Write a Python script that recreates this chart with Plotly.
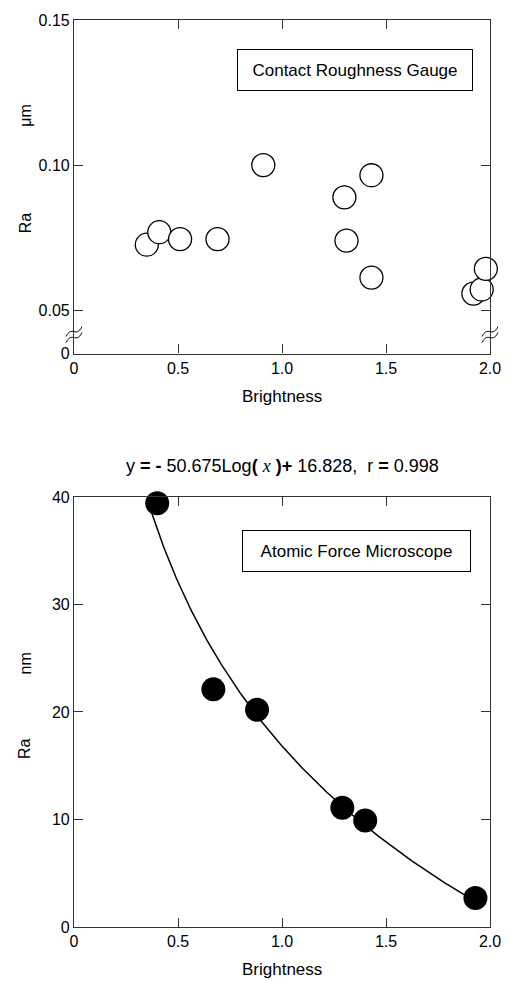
import numpy as np
import plotly.graph_objects as go

# ---------------- data ----------------
# Top panel: Contact Roughness Gauge (Ra in micrometres)
crg_brightness = [0.35, 0.41, 0.51, 0.69, 0.91, 1.30, 1.43, 1.31, 1.43, 1.92, 1.96, 1.98]
crg_ra_um = [0.0727, 0.0770, 0.0746, 0.0746, 0.1001, 0.0890, 0.0966, 0.0741, 0.0614, 0.0559, 0.0573, 0.0644]

# Bottom panel: Atomic Force Microscope (Ra in nanometres)
afm_brightness = [0.40, 0.67, 0.88, 1.29, 1.40, 1.93]
afm_ra_nm = [39.4, 22.1, 20.2, 11.1, 9.9, 2.7]

# Fit shown above the bottom panel: y = a*Log(x) + b
fit_slope = -50.675
fit_intercept = 16.828
fit_r = 0.998
fit_x_start = 0.37
fit_x_end = 1.95

x_ticks = [0, 0.5, 1.0, 1.5, 2.0]
x_tick_text = ["0", "0.5", "1.0", "1.5", "2.0"]
top_y_ticks = [0.05, 0.10, 0.15]
top_y_tick_text = ["0.05", "0.10", "0.15"]
bottom_y_ticks = [0, 10, 20, 30, 40]
bottom_y_tick_text = ["0", "10", "20", "30", "40"]

# ---------------- layout geometry ----------------
W, H = 513, 981
ML, MR, MT, MB = 74, 21, 16, 54
PW = W - ML - MR
PH = H - MT - MB
TOP_BOTTOM_PX = 351   # y pixel of top panel x-axis
BOT_TOP_PX = 495      # y pixel of bottom panel top edge

top_dom = [(H - MB - TOP_BOTTOM_PX) / PH, 1.0]
bot_dom = [0.0, (H - MB - BOT_TOP_PX) / PH]

top_ymax = 0.15
scale_px = 146 / 0.05
top_floor = top_ymax - (TOP_BOTTOM_PX - MT) / scale_px

FONT = "Liberation Sans, Arial, sans-serif"
AX = "#333333"

fig = go.Figure()

xf = np.linspace(fit_x_start, fit_x_end, 300)
yf = fit_slope * np.log10(xf) + fit_intercept
fig.add_trace(go.Scatter(x=xf, y=yf, mode="lines", line=dict(color="black", width=1.5),
                         xaxis="x2", yaxis="y2", hoverinfo="skip", showlegend=False))
fig.add_trace(go.Scatter(x=afm_brightness, y=afm_ra_nm, mode="markers",
                         marker=dict(size=24, color="black", line=dict(width=0)),
                         xaxis="x2", yaxis="y2", showlegend=False, cliponaxis=False))
fig.add_trace(go.Scatter(x=crg_brightness, y=crg_ra_um, mode="markers",
                         marker=dict(size=23, color="white", line=dict(width=1.3, color="black")),
                         xaxis="x", yaxis="y", showlegend=False, cliponaxis=False))

common_axis = dict(showline=True, linecolor=AX, linewidth=1.2, mirror="allticks",
                   ticks="inside", ticklen=9, tickwidth=1.2, tickcolor=AX,
                   showgrid=False, zeroline=False,
                   tickfont=dict(family=FONT, size=16, color="black"))

fig.update_layout(
    width=W, height=H, autosize=False,
    margin=dict(l=ML, r=MR, t=MT, b=MB),
    plot_bgcolor="white", paper_bgcolor="white",
    font=dict(family=FONT, color="black"),
    xaxis=dict(domain=[0, 1], anchor="y", range=[0, 2], tickvals=x_ticks,
               ticktext=x_tick_text, **common_axis),
    yaxis=dict(domain=top_dom, anchor="x", range=[top_floor, top_ymax],
               tickvals=[top_floor] + top_y_ticks, ticktext=["0"] + top_y_tick_text,
               **common_axis),
    xaxis2=dict(domain=[0, 1], anchor="y2", range=[0, 2], tickvals=x_ticks,
                ticktext=x_tick_text, **common_axis),
    yaxis2=dict(domain=bot_dom, anchor="x2", range=[0, 40], tickvals=bottom_y_ticks,
                ticktext=bottom_y_tick_text, **common_axis),
)

break_px = TOP_BOTTOM_PX - 19
def wave(cx_paper, cy_px, dy):
    px2x = 1.0 / PW
    px2y = 1.0 / PH
    cy = (H - MB - (cy_px + dy)) / PH
    pts = [(-8, -5), (-2, 7), (2, -7), (8, 5)]
    p = [(cx_paper + a * px2x, cy + b * px2y) for a, b in pts]
    return "M {},{} C {},{} {},{} {},{}".format(p[0][0], p[0][1], p[1][0], p[1][1],
                                                 p[2][0], p[2][1], p[3][0], p[3][1])

shapes = []
for cxp in (0.0, 1.0):
    for dy in (-3, 3):
        shapes.append(dict(type="path", xref="paper", yref="paper", path=wave(cxp, break_px, dy),
                           line=dict(color="black", width=1)))
fig.update_layout(shapes=shapes)

def px_x(px):
    return (px - ML) / PW

def px_y(py):
    return (H - MB - py) / PH

def txt(text, x, y, size=16, angle=0, **kw):
    d = dict(text=text, x=px_x(x), y=px_y(y), xref="paper", yref="paper",
             xanchor="center", yanchor="middle", showarrow=False, textangle=angle,
             font=dict(family=FONT, size=size, color="black"))
    d.update(kw)
    return d

ann = []
ann.append(txt("Contact Roughness Gauge", 356.5, 66.5, 17,
               bordercolor="black", borderwidth=1, borderpad=4, bgcolor="white", width=226, height=32))
ann.append(txt("Atomic Force Microscope", 358, 549.5, 17,
               bordercolor="black", borderwidth=1, borderpad=4, bgcolor="white", width=219, height=32))
ann.append(txt("Ra", 25, 220, 16, -90))
ann.append(txt("μm", 25, 112, 16, -90))
ann.append(txt("Ra", 25, 748, 16, -90))
ann.append(txt("nm", 25, 662, 16, -90))
ann.append(txt("Brightness", 283, TOP_BOTTOM_PX + 43, 17))
ann.append(txt("Brightness", 283, 970, 17))
eq = ("y <b>=</b> <b>-</b> {:.3f}Log<b>(</b> <span style='font-family:Liberation Serif, Times New Roman, serif'><i>x</i></span> <b>)+</b> "
      "{:.3f},\u00a0\u00a0r <b>=</b> {:.3f}").format(abs(fit_slope), fit_intercept, fit_r)
ann.append(txt(eq, 283, 464, 18))
fig.update_layout(annotations=ann)

fig.write_html("out.html", config={"displayModeBar": False},
               post_script="document.body.style.margin='0';document.body.style.padding='0';")
